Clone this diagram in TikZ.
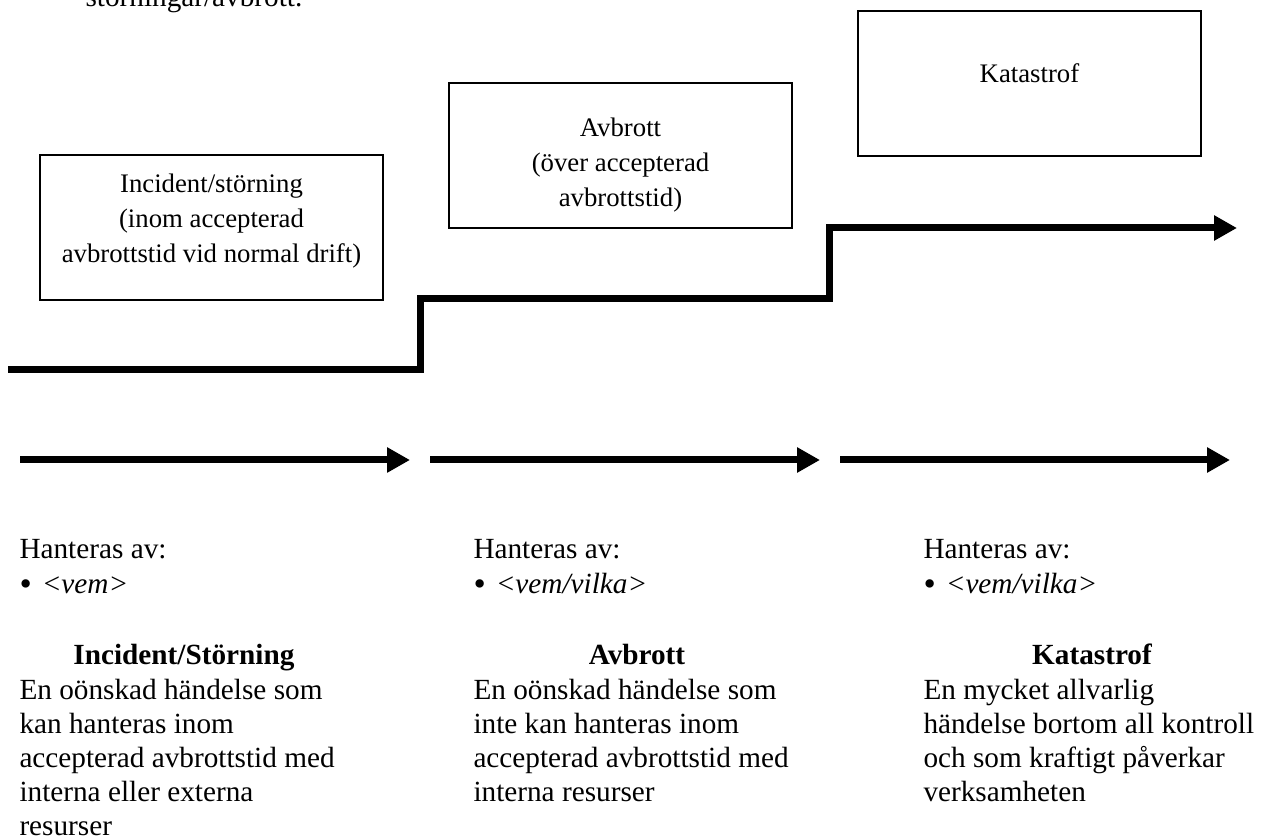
\documentclass[tikz,border=0pt]{standalone}
\usepackage{fontspec}
\setmainfont{Liberation Serif}
\usepackage{tikz}
\usetikzlibrary{arrows.meta}
\newcommand{\brodtext}{\fontsize{11.7}{13.8}\selectfont}
\newcommand{\rutatext}{\fontsize{10.7}{13.8}\selectfont}
\newcommand{\punkt}{{\fontsize{14}{14}\selectfont\raisebox{-.6pt}{•}}}

\begin{document}
\begin{tikzpicture}[x=.4pt,y=-.4pt,
  ruta/.style={draw,line width=.45pt,minimum width=137.2pt,minimum height=58pt,inner sep=0pt},
  rad/.style={inner sep=0pt,anchor=base,font=\rutatext},
  vrad/.style={inner sep=0pt,anchor=base west,font=\brodtext},
  rubrik/.style={inner sep=0pt,anchor=base,font=\brodtext\bfseries},
  pil/.style={line width=2.8pt,line join=miter,-{Triangle[length=9.2pt,width=9.6pt]}}]
\useasboundingbox (0,0) rectangle (1269,838);
\node[vrad] (rest) at (85,7) {störningar/avbrott.};
% rutorna
\node[ruta] (r1) at (211.5,227.5) {};
\node[ruta] (r2) at (620.5,155.5) {};
\node[ruta] (r3) at (1029.5,83.5) {};
\node[rad] (r1a) at (211.5,193) {Incident/störning};
\node[rad] (r1b) at (211.5,228) {(inom accepterad};
\node[rad] (r1c) at (211.5,263) {avbrottstid vid normal drift)};
\node[rad] (r2a) at (620.5,137) {Avbrott};
\node[rad] (r2b) at (620.5,172) {(över accepterad};
\node[rad] (r2c) at (620.5,207) {avbrottstid)};
\node[rad] (r3a) at (1029.5,83) {Katastrof};
% trappan
\coordinate (t0) at (8,369.5);
\coordinate (t1) at (420.5,369.5);
\coordinate (t2) at (420.5,298.5);
\coordinate (t3) at (829,298.5);
\coordinate (t4) at (829,228);
\coordinate (t5) at (1237,228);
\draw[pil] (t0)--(t1)--(t2)--(t3)--(t4)--(t5);
% tidslinjen
\coordinate (a0) at (20,460);\coordinate (a1) at (410,460);
\coordinate (b0) at (430,460);\coordinate (b1) at (820,460);
\coordinate (c0) at (840,460);\coordinate (c1) at (1230,460);
\draw[pil] (a0)--(a1);
\draw[pil] (b0)--(b1);
\draw[pil] (c0)--(c1);
% hanteras av
\foreach \x/\n/\vem in {19/1/{<vem>},473/2/{<vem/vilka>},923/3/{<vem/vilka>}}{
  \node[vrad] (h\n) at (\x,559) {Hanteras av:};
  \node[vrad] (v\n) at (\x,594) {\punkt\hspace{4pt}\textit{\vem}};
}
\node[rubrik] (k1) at (184,665) {Incident/Störning};
\node[rubrik] (k2) at (637,665) {Avbrott};
\node[rubrik] (k3) at (1092,665) {Katastrof};
\foreach \t [count=\i] in {En oönskad händelse som,kan hanteras inom,accepterad avbrottstid med,interna eller externa,resurser}
  \node[vrad] (d1\i) at (19,{665+\i*34.2}) {\t};
\foreach \t [count=\i] in {En oönskad händelse som,inte kan hanteras inom,accepterad avbrottstid med,interna resurser}
  \node[vrad] (d2\i) at (473,{665+\i*34.2}) {\t};
\foreach \t [count=\i] in {En mycket allvarlig,händelse bortom all kontroll,och som kraftigt påverkar,verksamheten}
  \node[vrad] (d3\i) at (923,{665+\i*34.2}) {\t};
\end{tikzpicture}
\end{document}
